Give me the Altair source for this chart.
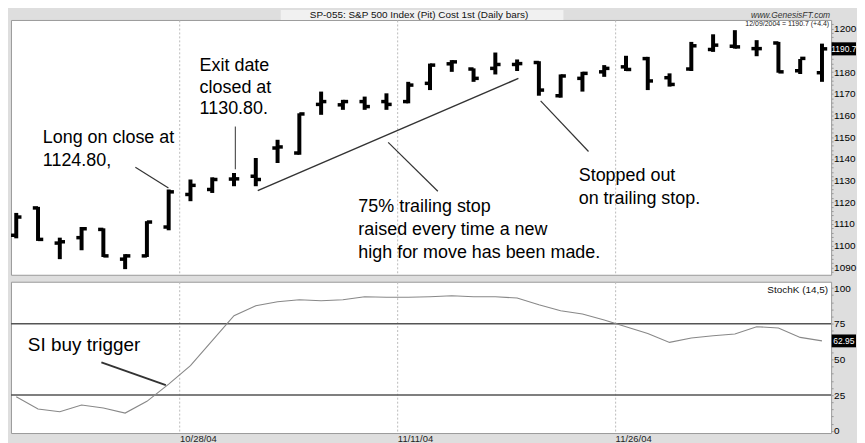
import altair as alt
import pandas as pd

# ---------------- data ----------------
dates = ["10/18/04", "10/19/04", "10/20/04", "10/21/04", "10/22/04", "10/25/04", "10/26/04",
         "10/27/04", "10/28/04", "10/29/04", "11/01/04", "11/02/04", "11/03/04", "11/04/04",
         "11/05/04", "11/08/04", "11/09/04", "11/10/04", "11/11/04", "11/12/04", "11/15/04",
         "11/16/04", "11/17/04", "11/18/04", "11/19/04", "11/22/04", "11/23/04", "11/24/04",
         "11/26/04", "11/29/04", "11/30/04", "12/01/04", "12/02/04", "12/03/04", "12/06/04",
         "12/07/04", "12/08/04", "12/09/04"]
opens = [1104.8, 1117.4, 1101.2, 1103.7, 1107.5, 1093.8, 1095.3, 1108.6, 1123.6, 1125.9,
         1130.7, 1132.0, 1145.0, 1142.7, 1165.1, 1164.9, 1166.4, 1166.4, 1166.4, 1174.8,
         1183.8, 1181.4, 1181.7, 1183.5, 1184.4, 1169.1, 1177.1, 1180.1, 1182.4, 1186.2,
         1177.4, 1181.4, 1190.4, 1191.9, 1190.8, 1193.4, 1180.6, 1179.7]
highs = [1115.1, 1117.9, 1103.7, 1108.6, 1108.0, 1096.1, 1111.3, 1125.9, 1130.5, 1131.5,
         1133.5, 1140.4, 1148.8, 1161.0, 1171.0, 1167.2, 1168.7, 1170.2, 1175.5, 1183.9,
         1185.5, 1181.7, 1189.0, 1185.8, 1185.0, 1178.9, 1180.1, 1183.2, 1187.5, 1187.0,
         1179.4, 1193.9, 1197.4, 1199.3, 1194.7, 1193.9, 1186.0, 1193.1]
lows = [1103.4, 1102.2, 1093.8, 1097.9, 1094.8, 1089.2, 1094.8, 1107.1, 1120.5, 1124.3,
        1127.4, 1127.4, 1138.1, 1141.9, 1160.3, 1162.6, 1162.6, 1162.6, 1165.6, 1171.7,
        1180.1, 1175.5, 1178.9, 1180.5, 1169.1, 1168.2, 1171.0, 1177.8, 1180.5, 1171.7,
        1173.3, 1180.5, 1189.3, 1190.8, 1187.3, 1179.7, 1179.1, 1175.5]
closes = [1113.2, 1102.9, 1101.8, 1107.8, 1095.3, 1095.3, 1110.9, 1124.8, 1127.8, 1130.5,
          1130.8, 1130.5, 1145.5, 1160.7, 1166.4, 1166.4, 1164.1, 1165.1, 1174.0, 1183.2,
          1184.7, 1177.1, 1183.5, 1183.9, 1171.7, 1178.2, 1179.4, 1181.7, 1181.2, 1175.9,
          1174.3, 1192.1, 1192.4, 1191.6, 1190.8, 1180.1, 1186.3, 1190.7]
stoch_k = [23.8, 15.2, 13.3, 18.0, 15.9, 12.4, 20.6, 32.7, 45.6, 63.1,
           80.6, 87.6, 90.4, 91.8, 91.1, 91.8, 93.9, 93.5, 93.5, 93.9,
           94.6, 93.9, 93.9, 93.0, 88.3, 84.1, 81.8, 77.6, 72.9, 68.2,
           61.9, 65.0, 66.6, 67.8, 72.9, 72.0, 65.4, 62.95]
tick_dates = ["10/28/04", "11/11/04", "11/26/04"]
price_labels = list(range(1090, 1201, 10))
stoch_labels = [0, 25, 50, 75, 100]
stoch_levels = [25, 75]

title_text = "SP-055: S&P 500 Index (Pit) Cost 1st (Daily bars)"
site_text = "www.GenesisFT.com"
last_date_full = "12/09/2004"
stoch_name = "StochK (14,5)"

# annotation texts (x in bar-index units, y in price / stoch units)
ann_top = pd.DataFrame({
    "x": [1.22, 1.22, 8.42, 8.42, 8.42, 15.71, 15.71, 15.71, 25.83, 25.83],
    "y": [1149.4, 1138.9, 1182.6, 1172.8, 1162.9, 1117.8, 1107.2, 1096.6, 1132.0, 1121.4],
    "text": ["Long on close at", "1124.80,", "Exit date", "closed at", "1130.80.",
             "75% trailing stop", "raised every time a new", "high for move has been made.",
             "Stopped out", "on trailing stop."],
})
lines_top = pd.DataFrame({
    "x": [5.47, 10.06, 11.09, 17.08, 24.08],
    "y": [1136.1, 1154.9, 1125.4, 1147.6, 1166.7],
    "x2": [6.99, 10.06, 23.06, 19.36, 26.28],
    "y2": [1126.6, 1135.2, 1177.1, 1125.1, 1143.4],
    "w": [1.2, 1.0, 1.5, 1.2, 1.2],
})
ann_bot = pd.DataFrame({"x": [0.53], "y": [59.8], "text": ["SI buy trigger"]})
lines_bot = pd.DataFrame({"x": [3.91], "y": [47.9], "x2": [6.87], "y2": [32.0], "w": [2.0]})

# ---------------- tables ----------------
df = pd.DataFrame({"idx": list(range(len(dates))), "date": dates, "open": opens,
                   "high": highs, "low": lows, "close": closes, "stoch": stoch_k})
grid_vals = [dates.index(d) - 0.5 for d in tick_dates]
label_expr = " : ".join(f"datum.value == {v} ? '{d}'" for v, d in zip(grid_vals, tick_dates)) + " : ''"

W = 824          # plot width (whole chart stays inside 849 px)
H_TOP = 256
H_BOT = 152
RIGHT = 849      # right edge of the chart, in plot pixels

xscale = alt.Scale(domain=[-0.2416, 37.42], nice=False, zero=False)
xaxis_top = alt.Axis(values=grid_vals, grid=True, gridDash=[2, 2], gridColor="#bbbbbb",
                     labels=False, ticks=False, domain=False, title=None)
xaxis_bot = alt.Axis(values=grid_vals, grid=True, gridDash=[2, 2], gridColor="#bbbbbb",
                     labels=True, ticks=False, domain=False, title=None, labelExpr=label_expr,
                     labelAlign="left", labelFlush=False, labelOverlap=False, labelPadding=0.5,
                     labelFontSize=9.5, labelColor="#222", labelBaseline="top")

# price labels hidden where the last-price box covers them
price_expr = ("indexof([" + ",".join(str(v) for v in price_labels) + "], datum.value) >= 0 && "
              f"abs(datum.value - {closes[-1]}) > 4 ? format(datum.value, 'd') : ''")
stoch_expr = ("indexof([" + ",".join(str(v) for v in stoch_labels) + "], datum.value) >= 0 && "
              f"abs(datum.value - {stoch_k[-1]}) > 6 ? format(datum.value, 'd') : ''")

yscale_top = alt.Scale(domain=[1086.6, 1204.0], nice=False, zero=False)
yaxis_top = alt.Axis(orient="right", values=list(range(1088, 1203, 2)), labelExpr=price_expr,
                     tickSize=2, tickColor="#999999", domain=False, grid=False,
                     labelFontSize=10, labelColor="black", labelPadding=0.5, title=None,
                     labelOverlap=False)
yscale_bot = alt.Scale(domain=[-1.6, 104.4], nice=False, zero=False)
yaxis_bot = alt.Axis(orient="right", values=list(range(0, 101, 5)), labelExpr=stoch_expr,
                     tickSize=2, tickColor="#999999", domain=False, grid=False,
                     labelFontSize=10, labelColor="black", labelPadding=0.5, title=None,
                     labelOverlap=False)


def XT(f):
    return alt.X(f, scale=xscale, axis=xaxis_top)


def YT(f):
    return alt.Y(f, scale=yscale_top, axis=yaxis_top)


def XB(f):
    return alt.X(f, scale=xscale, axis=xaxis_bot)


def YB(f):
    return alt.Y(f, scale=yscale_bot, axis=yaxis_bot)


base = alt.Chart(df)

hl = base.mark_rule(color="black", strokeWidth=4).encode(x=XT("idx:Q"), y=YT("low:Q"), y2="high:Q")
op = base.transform_calculate(ox="datum.idx - 0.24").mark_rule(color="black", strokeWidth=3.5).encode(
    x=XT("ox:Q"), x2="idx:Q", y=YT("open:Q"))
cl = base.transform_calculate(cx="datum.idx + 0.24").mark_rule(color="black", strokeWidth=3.5).encode(
    x=XT("idx:Q"), x2="cx:Q", y=YT("close:Q"))

ann_t = alt.Chart(ann_top).mark_text(align="left", baseline="middle", fontSize=18, color="black").encode(
    x=XT("x:Q"), y=YT("y:Q"), text="text:N")
ln_t = alt.Chart(lines_top).mark_rule(color="#333333").encode(
    x=XT("x:Q"), y=YT("y:Q"), x2="x2:Q", y2="y2:Q", strokeWidth=alt.StrokeWidth("w:Q", scale=None))

one = pd.DataFrame({"t": [title_text]})
title_box = alt.Chart(one).mark_rect(color="#f1f1f1").encode(
    x=alt.value(271), x2=alt.value(555), y=alt.value(-10), y2=alt.value(0))
title_t = alt.Chart(one).mark_text(fontSize=10, baseline="middle", align="center", color="#111").encode(
    x=alt.value(410), y=alt.value(-4.8), text="t:N")
site_t = alt.Chart(pd.DataFrame({"t": [site_text]})).mark_text(
    fontSize=8.5, fontStyle="italic", align="right", baseline="middle", color="#333").encode(
    x=alt.value(823), y=alt.value(-4.8), text="t:N")
last_info = f"{last_date_full} = {closes[-1]:.1f} (+{closes[-1] - closes[-2]:.1f})"
info_t = alt.Chart(pd.DataFrame({"t": [last_info]})).mark_text(
    fontSize=7, align="right", baseline="middle", color="#222").encode(
    x=alt.value(822), y=alt.value(4), text="t:N")

last_px = pd.DataFrame({"v": [closes[-1]]})
box_t = alt.Chart(last_px).transform_calculate(a="datum.v + 3", b="datum.v - 3").mark_rect(color="black").encode(
    x=alt.value(W + 0.5), x2=alt.value(RIGHT), y=YT("a:Q"), y2="b:Q")
box_txt = alt.Chart(last_px).mark_text(align="center", baseline="middle", color="white", fontSize=8.5).encode(
    x=alt.value((W + RIGHT) / 2 + 0.3), y=YT("v:Q"), text=alt.Text("v:Q", format=".1f"))

top = alt.layer(title_box, title_t, site_t, info_t, hl, op, cl, ln_t, ann_t, box_t, box_txt).properties(
    width=W, height=H_TOP)

# ---------------- lower panel ----------------
lv = alt.Chart(pd.DataFrame({"level": stoch_levels})).mark_rule(color="#555555", strokeWidth=1.5).encode(
    y=YB("level:Q"))
sk = base.mark_line(color="#888888", strokeWidth=1.1).encode(x=XB("idx:Q"), y=YB("stoch:Q"))
ann_b = alt.Chart(ann_bot).mark_text(align="left", baseline="middle", fontSize=19, color="black").encode(
    x=XB("x:Q"), y=YB("y:Q"), text="text:N")
ln_b = alt.Chart(lines_bot).mark_rule(color="#333333").encode(
    x=XB("x:Q"), y=YB("y:Q"), x2="x2:Q", y2="y2:Q", strokeWidth=alt.StrokeWidth("w:Q", scale=None))
name_t = alt.Chart(pd.DataFrame({"t": [stoch_name]})).mark_text(
    fontSize=10, align="right", baseline="middle", color="#111").encode(
    x=alt.value(821), y=alt.value(8), text="t:N")
last_k = pd.DataFrame({"v": [stoch_k[-1]]})
box_b = alt.Chart(last_k).transform_calculate(a="datum.v + 4.5", b="datum.v - 4.5").mark_rect(color="black").encode(
    x=alt.value(W + 0.5), x2=alt.value(RIGHT), y=YB("a:Q"), y2="b:Q")
box_btxt = alt.Chart(last_k).mark_text(align="center", baseline="middle", color="white", fontSize=8.5).encode(
    x=alt.value((W + RIGHT) / 2 + 0.3), y=YB("v:Q"), text=alt.Text("v:Q", format=".2f"))

bottom = alt.layer(lv, sk, ln_b, ann_b, name_t, box_b, box_btxt).properties(width=W, height=H_BOT)

chart = alt.vconcat(top, bottom, spacing=3).properties(
    background="#dedede", padding=0
).configure(font="Liberation Sans").configure_view(fill="white", stroke="#9a9a9a", strokeWidth=1)

chart.save("out.html", embed_options={"renderer": "svg", "actions": False})
